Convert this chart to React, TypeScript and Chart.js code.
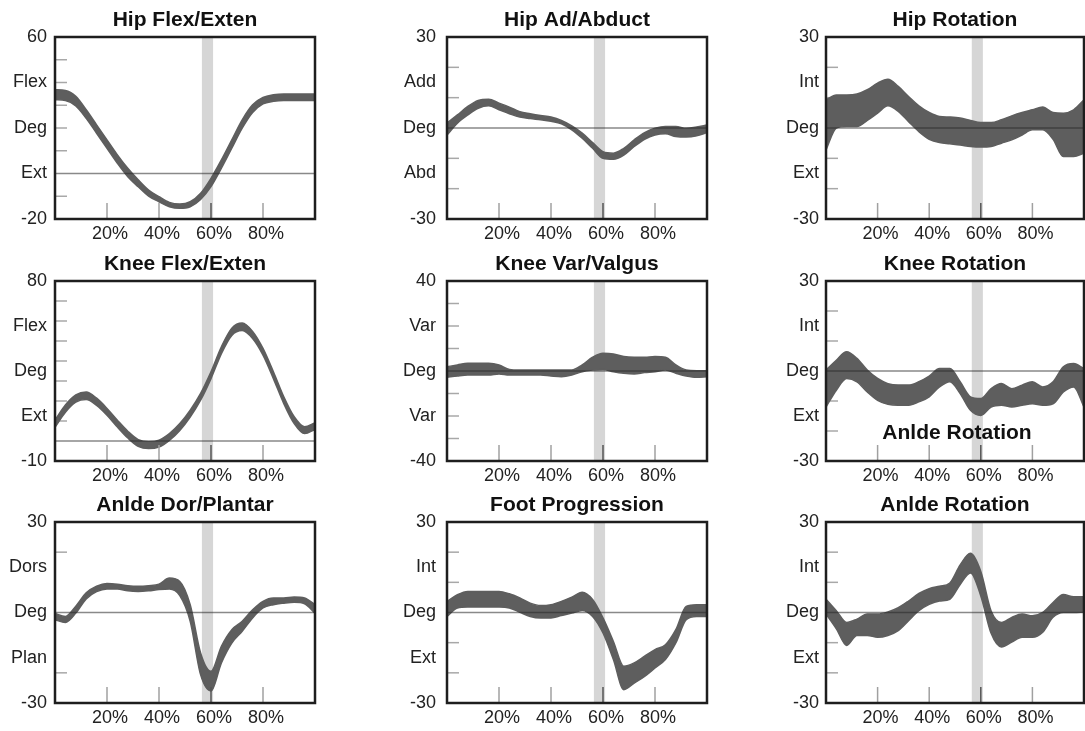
import React, { useEffect, useRef } from 'react';
import { Chart, registerables } from 'chart.js';

Chart.register(...registerables);

// ---- DATA ----
const cyclePct = [0, 4, 8, 12, 16, 20, 24, 28, 32, 36, 40, 44, 48, 52, 56, 60, 64, 68, 72, 76, 80, 84, 88, 92, 96, 100];
const xTickValues = [20, 40, 60, 80];
const stanceBar = [56.5, 60.8];

const hipFlexUpper = [36.8, 36.5, 33.9, 28, 21.4, 14.8, 8.2, 2.3, -2.8, -7.3, -10.2, -12.7, -13.4, -12.4, -8.7, -2.1, 6, 14.8, 23.6, 30.2, 33.4, 34.6, 35, 35, 35, 35];
const hipFlexLower = [32.4, 32.1, 29.7, 24.3, 17.7, 11.1, 4.5, -1.4, -5.8, -9.9, -12.4, -14.6, -15.3, -14.6, -11.4, -5.8, 2.3, 11.1, 19.9, 26.8, 30.6, 31.7, 32.1, 32.1, 32.1, 32.1];
const hipFlexTickValues = [60, 40, 20, 0, -20];
const hipFlexTickLabels = ['60', 'Flex', 'Deg', 'Ext', '-20'];
const hipFlexMinor = [50, 40, 30, 20, 10, -10];

const hipAdUpper = [1.6, 4.3, 7.1, 9.1, 9.5, 8.2, 6.9, 5.4, 4.7, 4.1, 3.6, 2.5, 0.7, -1.7, -4.8, -7.8, -8.3, -6.7, -3.9, -1.5, -0.1, 0.5, 0.5, -0.1, 0.3, 1];
const hipAdLower = [-2.3, 1.6, 4.3, 6.5, 7.3, 6, 4.7, 3.6, 3.1, 2.7, 2.2, 1.4, -0.6, -3.4, -6.7, -10, -10.3, -8.9, -6.1, -3.7, -2.3, -1.9, -2.8, -3, -2.6, -1.5];
const hipAdTickLabels = ['30', 'Add', 'Deg', 'Abd', '-30'];

const hipRotUpper = [9.3, 10.9, 10.9, 11.2, 12.6, 14.8, 16.1, 13.7, 10.4, 7.3, 5.1, 3.8, 3.6, 3.3, 2.5, 1.8, 1.8, 2.7, 4, 5.1, 6, 6.9, 5.1, 4.9, 6, 9.3];
const hipRotLower = [-7.2, 0, 0.5, 0.5, 2.5, 4.9, 7.3, 5.5, 2.1, -1.2, -3.7, -4.8, -5.2, -5.6, -6.1, -6.3, -6.1, -5, -3.9, -2.3, -0.6, -0.6, -3.7, -9.4, -9.4, -8.3];
const rotTickLabels = ['30', 'Int', 'Deg', 'Ext', '-30'];

const kneeFlexUpper = [10.5, 18, 23, 24.5, 21.4, 16.3, 10.4, 4.9, 0.7, -0.4, 0.4, 3.7, 8.7, 15.4, 23.8, 34.6, 47.1, 56.4, 59, 54.8, 46.3, 34.6, 22.1, 12.1, 7.1, 9.2];
const kneeFlexLower = [6.9, 14.4, 19.4, 20.7, 17.8, 12.9, 7, 1.5, -2.7, -3.8, -3, 0.3, 5.3, 12, 20.4, 31.2, 43.7, 52.8, 55.2, 51.2, 42.9, 31.2, 18.7, 8.7, 3.7, 5.8];
const kneeFlexTickValues = [80, 57.5, 35, 12.5, -10];
const kneeFlexTickLabels = ['80', 'Flex', 'Deg', 'Ext', '-10'];
const kneeFlexMinor = [70, 60, 50, 40, 30, 20, 10];

const kneeVarUpper = [1.9, 2.7, 3.4, 3.4, 3.4, 2.7, 0.7, 0.4, 0.4, 0.4, 0.4, 0.4, 0.4, 2.7, 6.1, 7.9, 7.6, 6.4, 6.1, 6.1, 6.4, 6.1, 2.7, 0.4, 0.1, 0.1];
const kneeVarLower = [-2.8, -2.2, -1.8, -1.8, -1.8, -1.3, -1.8, -1.8, -1.8, -1.8, -2.2, -2.5, -1.8, -0.3, 0.4, 0.7, -0.3, -1, -1.3, -0.7, -0.3, 0.4, -1, -2.2, -2.8, -2.5];
const kneeVarTickValues = [40, 20, 0, -20, -40];
const kneeVarTickLabels = ['40', 'Var', 'Deg', 'Var', '-40'];
const kneeVarMinor = [30, 20, 10, -10, -20, -30];

const kneeRotUpper = [0.3, 3.6, 6.4, 4.2, 0.3, -2.5, -4.2, -4.7, -4.7, -3.6, -1.7, 0.8, 0.8, -3.6, -8.6, -9.2, -5.9, -4.2, -5.9, -4.7, -3.6, -5.3, -3.6, 1.4, 2.5, 0.8];
const kneeRotLower = [-12, -6.4, -2.5, -3.6, -7, -9.8, -11.1, -11.4, -11.4, -10.3, -8.6, -5.3, -3.6, -7.5, -13.1, -14.8, -12, -11.4, -12, -11.4, -10.9, -11.4, -10.9, -7, -5.3, -12];

const ankleDorUpper = [-0.3, -1.3, 2.1, 6.5, 8.7, 9.6, 9.4, 8.9, 8.7, 8.9, 9.4, 11.4, 10.3, 2.6, -13.4, -19.5, -11.2, -5.7, -2.9, 0.9, 3.7, 4.8, 4.8, 5.1, 4.8, 2.6];
const ankleDorLower = [-2.4, -3.3, -0.2, 4.5, 6.9, 7.8, 7.8, 7.2, 7, 7.2, 7.6, 7.8, 5.6, -2.9, -20.6, -26, -16.7, -10.1, -6.2, -1.8, 1.5, 2.6, 3.1, 3.4, 2.9, -0.2];
const ankleDorTickLabels = ['30', 'Dors', 'Deg', 'Plan', '-30'];
const ankleDorMinor = [20, -20];

const footUpper = [3.7, 5.9, 7, 7, 7, 7, 6.2, 4.8, 3.1, 2.3, 2.6, 3.7, 5.1, 6.7, 4.3, -1.8, -9.6, -17.8, -16.7, -14.5, -12.3, -10.7, -5.7, 2, 2.6, 2.6];
const footLower = [-1.3, 1.5, 1.8, 1.8, 1.8, 1.8, 1.5, 0.1, -1.3, -1.8, -1.8, -1, -0.2, 0.7, -1.3, -6.8, -15.6, -25.6, -23.4, -21.2, -18.4, -15.6, -10.1, -2.4, -1.3, -1.3];

const ankleRotUpper = [4.4, 0.6, -3.3, -2.2, -0.5, -0.5, 0.2, 1.6, 3.8, 6.3, 7.9, 8.7, 9.8, 15.8, 19.6, 13.6, 0.5, -3.3, -1.6, -0.5, -1.1, 0, 3.3, 6, 5.2, 5.2];
const ankleRotLower = [-0.5, -5.4, -10.9, -7.6, -7.6, -8.2, -7.6, -6, -2.7, 0.6, 2.7, 3.8, 4.4, 9.3, 13.1, 5.5, -6.9, -11.4, -9.8, -8.2, -8.2, -6.5, -1.6, 0, 0, 0.2];

const sym30TickValues = [30, 15, 0, -15, -30];
const sym30Minor = [20, 10, -10, -20];

// ---- LAYOUT / STYLE ----
const colPlotLeft = [55, 447, 826];
const colPlotWidth = [260, 260, 258];
const colLabelPad = [8, 11, 7];
const rowPlotTop = [37, 281, 522];
const rowPlotHeight = [182, 180, 181];
const AXIS_W = 60;
const TOP_PAD = 40;
const XAXIS_H = 32;
const RIGHT_PAD = 6;
const FONT = '"Liberation Sans", Arial, Helvetica, sans-serif';
const BAND = 'rgb(94,94,94)';

type PanelCfg = {
  title: string; row: number; col: number; min: number; max: number;
  tickValues: number[]; tickLabels: string[]; minor: number[];
  upper: number[]; lower: number[]; overlay?: string;
};

const panels: PanelCfg[] = [
  { title: 'Hip Flex/Exten', row: 0, col: 0, min: -20, max: 60, tickValues: hipFlexTickValues, tickLabels: hipFlexTickLabels, minor: hipFlexMinor, upper: hipFlexUpper, lower: hipFlexLower },
  { title: 'Hip Ad/Abduct', row: 0, col: 1, min: -30, max: 30, tickValues: sym30TickValues, tickLabels: hipAdTickLabels, minor: sym30Minor, upper: hipAdUpper, lower: hipAdLower },
  { title: 'Hip Rotation', row: 0, col: 2, min: -30, max: 30, tickValues: sym30TickValues, tickLabels: rotTickLabels, minor: sym30Minor, upper: hipRotUpper, lower: hipRotLower },
  { title: 'Knee Flex/Exten', row: 1, col: 0, min: -10, max: 80, tickValues: kneeFlexTickValues, tickLabels: kneeFlexTickLabels, minor: kneeFlexMinor, upper: kneeFlexUpper, lower: kneeFlexLower },
  { title: 'Knee Var/Valgus', row: 1, col: 1, min: -40, max: 40, tickValues: kneeVarTickValues, tickLabels: kneeVarTickLabels, minor: kneeVarMinor, upper: kneeVarUpper, lower: kneeVarLower },
  { title: 'Knee Rotation', row: 1, col: 2, min: -30, max: 30, tickValues: sym30TickValues, tickLabels: rotTickLabels, minor: sym30Minor, upper: kneeRotUpper, lower: kneeRotLower, overlay: 'Anlde Rotation' },
  { title: 'Anlde Dor/Plantar', row: 2, col: 0, min: -30, max: 30, tickValues: sym30TickValues, tickLabels: ankleDorTickLabels, minor: ankleDorMinor, upper: ankleDorUpper, lower: ankleDorLower },
  { title: 'Foot Progression', row: 2, col: 1, min: -30, max: 30, tickValues: sym30TickValues, tickLabels: rotTickLabels, minor: sym30Minor, upper: footUpper, lower: footLower },
  { title: 'Anlde Rotation', row: 2, col: 2, min: -30, max: 30, tickValues: sym30TickValues, tickLabels: rotTickLabels, minor: sym30Minor, upper: ankleRotUpper, lower: ankleRotLower },
];

function Panel({ cfg }: { cfg: PanelCfg }) {
  const ref = useRef<HTMLCanvasElement>(null);
  const plotW = colPlotWidth[cfg.col];
  const plotH = rowPlotHeight[cfg.row];
  const w = AXIS_W + plotW + RIGHT_PAD;
  const h = TOP_PAD + plotH + XAXIS_H;
  const left = colPlotLeft[cfg.col] - AXIS_W;
  const top = rowPlotTop[cfg.row] - TOP_PAD;

  useEffect(() => {
    const canvas = ref.current!;
    const decor = {
      id: 'decor',
      beforeDatasetsDraw(chart: any) {
        const { ctx, chartArea: a, scales } = chart;
        const x = scales.x, y = scales.y;
        ctx.save();
        const x0 = x.getPixelForValue(stanceBar[0]);
        const x1 = x.getPixelForValue(stanceBar[1]);
        ctx.fillStyle = '#d6d6d6';
        ctx.fillRect(x0, a.top, x1 - x0, a.bottom - a.top);
        ctx.strokeStyle = '#a8a8a8';
        ctx.lineWidth = 1.5;
        cfg.minor.forEach((v) => {
          const py = y.getPixelForValue(v);
          ctx.beginPath();
          ctx.moveTo(a.left, py);
          ctx.lineTo(a.left + 12, py);
          ctx.stroke();
        });
        ctx.restore();
      },
      afterDatasetsDraw(chart: any) {
        const { ctx, chartArea: a, scales } = chart;
        const x = scales.x, y = scales.y;
        ctx.save();
        const zy = y.getPixelForValue(0);
        ctx.strokeStyle = 'rgba(40,40,40,0.55)';
        ctx.lineWidth = 1.6;
        ctx.beginPath();
        ctx.moveTo(a.left, zy);
        ctx.lineTo(a.right, zy);
        ctx.stroke();
        xTickValues.forEach((v) => {
          const px = x.getPixelForValue(v);
          ctx.strokeStyle = v === 60 ? '#555' : '#a0a0a0';
          ctx.lineWidth = 1.5;
          ctx.beginPath();
          ctx.moveTo(px, a.bottom);
          ctx.lineTo(px, a.bottom - 16);
          ctx.stroke();
        });
        ctx.strokeStyle = '#1e1e1e';
        ctx.lineWidth = 2.5;
        ctx.strokeRect(a.left, a.top, a.right - a.left, a.bottom - a.top);
        ctx.fillStyle = '#111';
        ctx.font = `bold 21px ${FONT}`;
        ctx.textAlign = 'center';
        ctx.textBaseline = 'middle';
        const cx = (a.left + a.right) / 2;
        ctx.fillText(cfg.title, cx, a.top - 17);
        if (cfg.overlay) ctx.fillText(cfg.overlay, cx + 2, a.bottom - 28);
        ctx.restore();
      },
    };

    const mk = (arr: number[]) => cyclePct.map((px, i) => ({ x: px, y: arr[i] }));
    const ds = (arr: number[], fill: any) => ({
      data: mk(arr),
      borderColor: BAND,
      backgroundColor: BAND,
      borderWidth: 1.5,
      pointRadius: 0,
      fill,
      cubicInterpolationMode: 'monotone' as const,
    });

    const chart = new Chart(canvas, {
      type: 'line',
      data: { datasets: [ds(cfg.lower, false), ds(cfg.upper, '-1')] as any },
      options: {
        animation: false,
        responsive: false,
        devicePixelRatio: 1,
        layout: { padding: { top: TOP_PAD, right: RIGHT_PAD, bottom: 0, left: 0 } },
        plugins: { legend: { display: false }, tooltip: { enabled: false }, title: { display: false } },
        scales: {
          x: {
            type: 'linear', min: 0, max: 100,
            afterBuildTicks: (s: any) => { s.ticks = xTickValues.map((v) => ({ value: v })); },
            afterFit: (s: any) => { s.height = XAXIS_H; },
            ticks: { callback: (v: any) => `${v}%`, padding: 4, labelOffset: 3, autoSkip: false, maxRotation: 0, color: '#222', font: { family: FONT, size: 18 } },
            grid: { display: false, drawTicks: false },
            border: { display: false },
          },
          y: {
            type: 'linear', min: cfg.min, max: cfg.max,
            afterBuildTicks: (s: any) => { s.ticks = [...cfg.tickValues].reverse().map((v) => ({ value: v })); },
            afterFit: (s: any) => { s.width = AXIS_W; },
            ticks: {
              callback: (v: any) => { const i = cfg.tickValues.indexOf(Number(v)); return i >= 0 ? cfg.tickLabels[i] : ''; },
              padding: colLabelPad[cfg.col], autoSkip: false, color: '#222', font: { family: FONT, size: 18 },
            },
            grid: { display: false, drawTicks: false },
            border: { display: false },
          },
        },
      } as any,
      plugins: [decor],
    });
    return () => chart.destroy();
  }, []);

  return (
    <canvas ref={ref} width={w} height={h}
      style={{ position: 'absolute', left, top, width: w, height: h }} />
  );
}

export default function App() {
  return (
    <div style={{ position: 'fixed', left: 0, top: 0, width: 1085, height: 731, overflow: 'hidden', background: '#fff' }}>
      {panels.map((p, i) => <Panel key={i} cfg={p} />)}
    </div>
  );
}
